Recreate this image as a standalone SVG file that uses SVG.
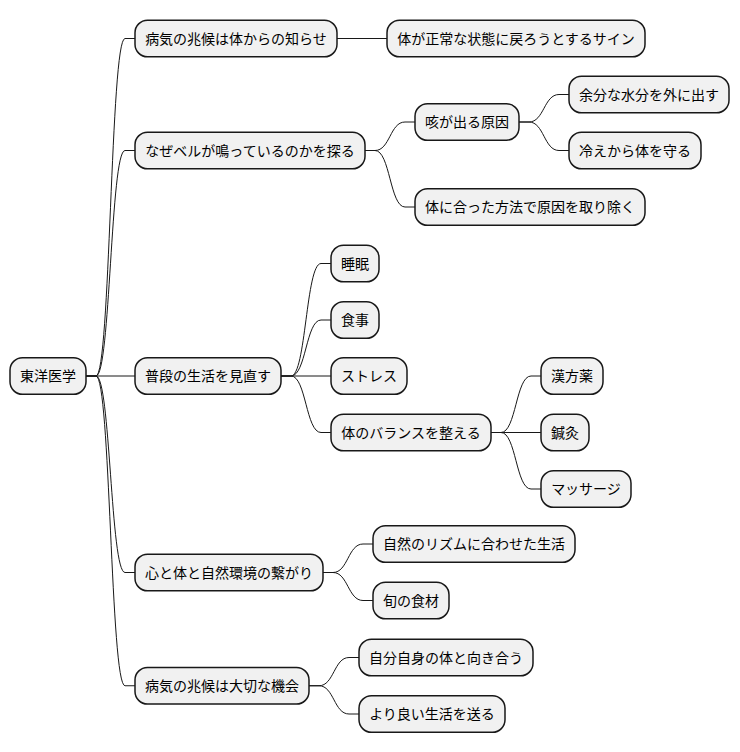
<svg xmlns="http://www.w3.org/2000/svg" width="740" height="752" viewBox="0 0 740 752">
<style>
.n rect{fill:#F1F1F1;stroke:#181818;stroke-width:1.5}
.n text{font-family:"Noto Sans CJK JP","Noto Sans",sans-serif;font-size:14px;fill:#000;text-anchor:middle}
#links path{fill:none;stroke:#181818;stroke-width:1}
</style>
<rect width="740" height="752" fill="#FFFFFF"/>
<g id="links">
<path d="M86,376 H96 C110.5,376 110.5,38.5 125,38.5 H135"/>
<path d="M86,376 H96 C110.5,376 110.5,150.5 125,150.5 H135"/>
<path d="M86,376 H135"/>
<path d="M86,376 H96 C110.5,376 110.5,572.5 125,572.5 H135"/>
<path d="M86,376 H96 C110.5,376 110.5,685.75 125,685.75 H135"/>
<path d="M337,38.5 H387"/>
<path d="M365,150.5 H375 C390,150.5 390,122 405,122 H415"/>
<path d="M365,150.5 H375 C390,150.5 390,207 405,207 H415"/>
<path d="M519,122 H529 C544,122 544,94.5 559,94.5 H569"/>
<path d="M519,122 H529 C544,122 544,150.5 559,150.5 H569"/>
<path d="M281,376 H291 C306,376 306,263.5 321,263.5 H331"/>
<path d="M281,376 H291 C306,376 306,320 321,320 H331"/>
<path d="M281,376 H331"/>
<path d="M281,376 H291 C306,376 306,432.5 321,432.5 H331"/>
<path d="M491,432.5 H501 C516,432.5 516,376 531,376 H541"/>
<path d="M491,432.5 H541"/>
<path d="M491,432.5 H501 C516,432.5 516,489 531,489 H541"/>
<path d="M323,572.5 H333 C348,572.5 348,544 363,544 H373"/>
<path d="M323,572.5 H333 C348,572.5 348,600.5 363,600.5 H373"/>
<path d="M309,685.75 H319 C334,685.75 334,657.5 349,657.5 H359"/>
<path d="M309,685.75 H319 C334,685.75 334,714 349,714 H359"/>
</g>
<g id="root" class="n"><rect x="10" y="357.7" width="76" height="36.6" rx="12.5"/><text x="48" y="381">東洋医学</text></g>
<g id="n1" class="n"><rect x="135" y="20.2" width="202" height="36.6" rx="12.5"/><text x="236" y="43.5">病気の兆候は体からの知らせ</text></g>
<g id="n1a" class="n"><rect x="387" y="20.2" width="258" height="36.6" rx="12.5"/><text x="516" y="43.5">体が正常な状態に戻ろうとするサイン</text></g>
<g id="n2" class="n"><rect x="135" y="132.2" width="230" height="36.6" rx="12.5"/><text x="250" y="155.5">なぜベルが鳴っているのかを探る</text></g>
<g id="n2a" class="n"><rect x="415" y="103.7" width="104" height="36.6" rx="12.5"/><text x="467" y="127">咳が出る原因</text></g>
<g id="n2a1" class="n"><rect x="569" y="76.2" width="160" height="36.6" rx="12.5"/><text x="649" y="99.5">余分な水分を外に出す</text></g>
<g id="n2a2" class="n"><rect x="569" y="132.2" width="132" height="36.6" rx="12.5"/><text x="635" y="155.5">冷えから体を守る</text></g>
<g id="n2b" class="n"><rect x="415" y="188.7" width="230" height="36.6" rx="12.5"/><text x="530" y="212">体に合った方法で原因を取り除く</text></g>
<g id="n3" class="n"><rect x="135" y="357.7" width="146" height="36.6" rx="12.5"/><text x="208" y="381">普段の生活を見直す</text></g>
<g id="n3a" class="n"><rect x="331" y="245.2" width="48" height="36.6" rx="12.5"/><text x="355" y="268.5">睡眠</text></g>
<g id="n3b" class="n"><rect x="331" y="301.7" width="48" height="36.6" rx="12.5"/><text x="355" y="325">食事</text></g>
<g id="n3c" class="n"><rect x="331" y="357.7" width="76" height="36.6" rx="12.5"/><text x="369" y="381">ストレス</text></g>
<g id="n3d" class="n"><rect x="331" y="414.2" width="160" height="36.6" rx="12.5"/><text x="411" y="437.5">体のバランスを整える</text></g>
<g id="n3d1" class="n"><rect x="541" y="357.7" width="62" height="36.6" rx="12.5"/><text x="572" y="381">漢方薬</text></g>
<g id="n3d2" class="n"><rect x="541" y="414.2" width="48" height="36.6" rx="12.5"/><text x="565" y="437.5">鍼灸</text></g>
<g id="n3d3" class="n"><rect x="541" y="470.7" width="90" height="36.6" rx="12.5"/><text x="586" y="494">マッサージ</text></g>
<g id="n4" class="n"><rect x="135" y="554.2" width="188" height="36.6" rx="12.5"/><text x="229" y="577.5">心と体と自然環境の繋がり</text></g>
<g id="n4a" class="n"><rect x="373" y="525.7" width="202" height="36.6" rx="12.5"/><text x="474" y="549">自然のリズムに合わせた生活</text></g>
<g id="n4b" class="n"><rect x="373" y="582.2" width="76" height="36.6" rx="12.5"/><text x="411" y="605.5">旬の食材</text></g>
<g id="n5" class="n"><rect x="135" y="667.45" width="174" height="36.6" rx="12.5"/><text x="222" y="690.75">病気の兆候は大切な機会</text></g>
<g id="n5a" class="n"><rect x="359" y="639.2" width="174" height="36.6" rx="12.5"/><text x="446" y="662.5">自分自身の体と向き合う</text></g>
<g id="n5b" class="n"><rect x="359" y="695.7" width="146" height="36.6" rx="12.5"/><text x="432" y="719">より良い生活を送る</text></g>
</svg>
